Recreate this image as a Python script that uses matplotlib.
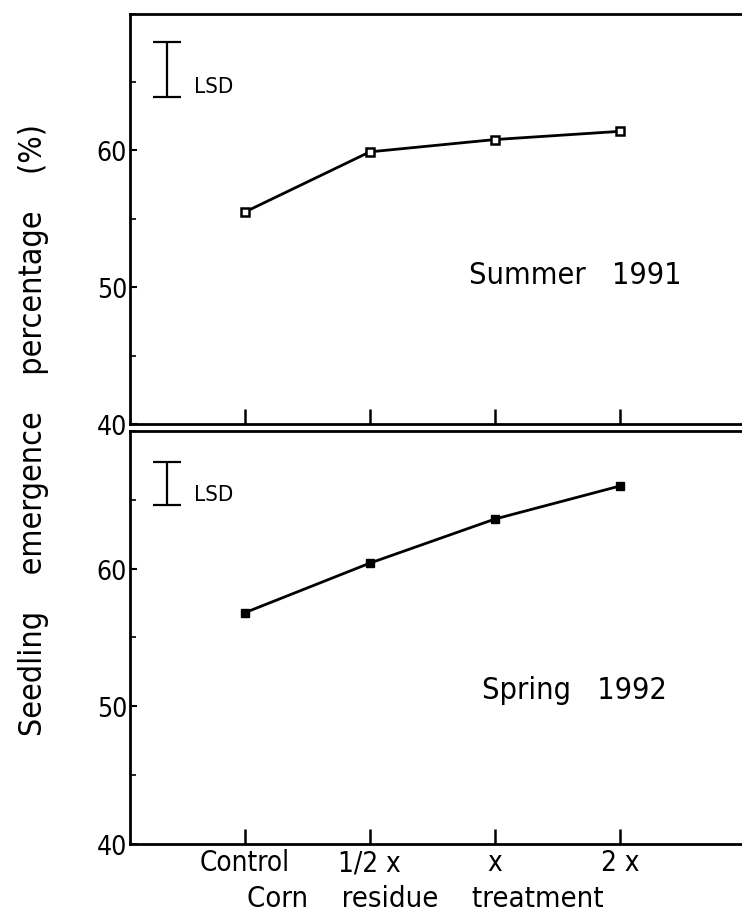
import matplotlib
matplotlib.use("Agg")
import matplotlib.pyplot as plt
from matplotlib.ticker import MultipleLocator

plt.rcParams['font.family'] = ['DejaVu Sans']
plt.rcParams['font.stretch'] = 'condensed'

categories = ["Control", "1/2 x", "x", "2 x"]
summer_1991 = [55.5, 59.9, 60.8, 61.4]
spring_1992 = [56.8, 60.4, 63.6, 66.0]
lsd_summer = 4.0
lsd_spring = 3.1
lsd_center = [65.9, 66.2]
yticks = [40, 50, 60]

fig = plt.figure(figsize=(7.42, 9.2), dpi=100)
ax1 = fig.add_axes([0.175, 0.538, 0.84, 0.446])
ax2 = fig.add_axes([0.175, 0.0815, 0.84, 0.449])

xpos = list(range(len(categories)))

def style(ax, show_labels):
    ax.set_xlim(-0.92, -0.92 + 0.84 * 742 / 125)
    ax.set_ylim(40, 70)
    ax.set_yticks(yticks)
    ax.set_yticklabels([str(v) for v in yticks], fontsize=19)
    ax.yaxis.set_minor_locator(MultipleLocator(5))
    ax.tick_params(axis='y', which='major', direction='in', length=5, width=1.5, pad=2)
    ax.tick_params(axis='y', which='minor', direction='in', length=4, width=1.2)
    ax.set_xticks(xpos)
    ax.tick_params(axis='x', which='major', direction='in', length=11, width=1.8, pad=3)
    if show_labels:
        ax.set_xticklabels(categories, fontsize=20)
    else:
        ax.set_xticklabels([])
    ax.spines['right'].set_visible(False)
    for s in ['left', 'top', 'bottom']:
        ax.spines[s].set_linewidth(2)

ax1.plot(xpos, summer_1991, color='black', lw=2, marker='s', ms=6,
         mfc='white', mec='black', mew=1.8)
ax1.errorbar([-0.62], [lsd_center[0]], yerr=[lsd_summer / 2], color='black',
             capsize=10, capthick=1.6, elinewidth=1.6, fmt='none')
ax1.text(-0.41, lsd_center[0] - lsd_summer / 2 + 0.05, "LSD", fontsize=16,
         va='bottom', ha='left')
ax1.text(2.64, 50.9, "Summer   1991", fontsize=22, ha='center', va='center')
style(ax1, False)

ax2.plot(xpos, spring_1992, color='black', lw=2, marker='s', ms=6,
         mfc='black', mec='black')
ax2.errorbar([-0.62], [lsd_center[1]], yerr=[lsd_spring / 2], color='black',
             capsize=10, capthick=1.6, elinewidth=1.6, fmt='none')
ax2.text(-0.41, lsd_center[1] - lsd_spring / 2 + 0.05, "LSD", fontsize=16,
         va='bottom', ha='left')
ax2.text(2.64, 51.2, "Spring   1992", fontsize=22, ha='center', va='center')
style(ax2, True)

fig.text(425 / 742, 1 - 899 / 920, "Corn    residue    treatment", fontsize=21,
         ha='center', va='center')

fig.text(34 / 742, 1 - 430 / 920, "Seedling    emergence    percentage    (%)", rotation=90,
         fontsize=23, ha='center', va='center')

fig.savefig("out.png", dpi=100)
